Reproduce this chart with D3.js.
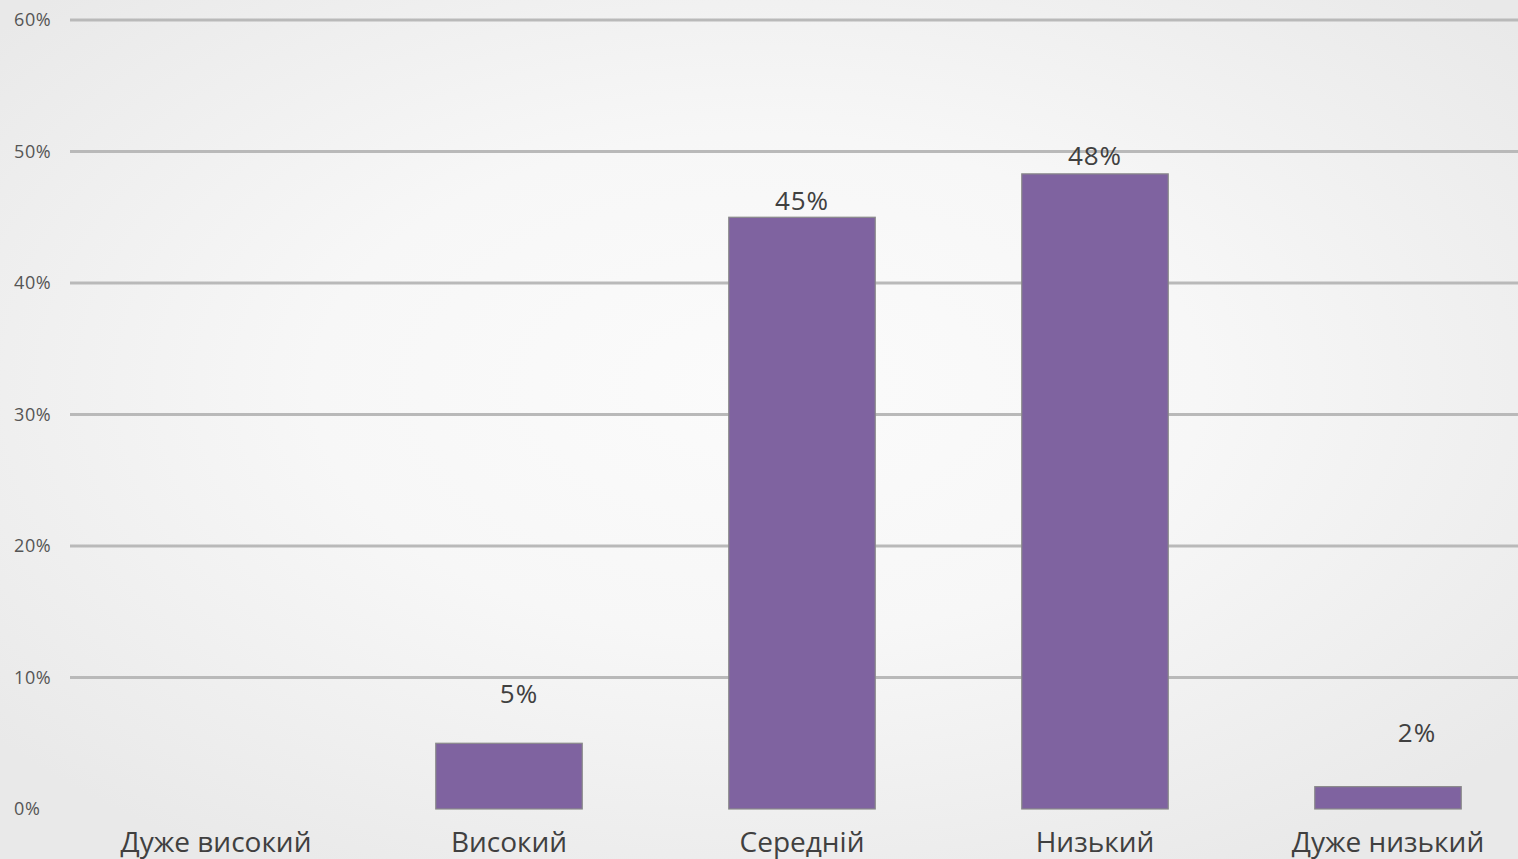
<!DOCTYPE html>
<html><head><meta charset="utf-8">
<script src="https://cdn.jsdelivr.net/npm/d3@7"></script>
<style>html,body{margin:0;padding:0;overflow:hidden;background:#f0f0f0}</style>
</head><body>
<svg id="chart" width="1518" height="859"></svg>
<script>
const categories = ["Дуже високий", "Високий", "Середній", "Низький", "Дуже низький"];
const values = [0, 5, 45, 48.3, 1.7];
const labels = ["", "5%", "45%", "48%", "2%"];
const yTicks = [0, 10, 20, 30, 40, 50, 60];

const W = 1518, H = 859;
const FONT = "'Open Sans', 'Noto Sans', sans-serif";
const svg = d3.select("#chart");
const defs = svg.append("defs");
const rg = defs.append("radialGradient").attr("id","bg").attr("cx","50%").attr("cy","45%").attr("r","65%");
rg.append("stop").attr("offset","0%").attr("stop-color","#fbfbfb");
rg.append("stop").attr("offset","45%").attr("stop-color","#f7f7f7");
rg.append("stop").attr("offset","100%").attr("stop-color","#e9e9e9");
svg.append("rect").attr("width",W).attr("height",H).attr("fill","url(#bg)");

const x = d3.scaleBand().domain(categories).range([69.5, 1534.5]).paddingInner(0.5).paddingOuter(0.25);
const y = d3.scaleLinear().domain([0, 60]).range([809, 20]);

// gridlines
svg.append("g").selectAll("line").data(yTicks.filter(d => d > 0)).join("line")
  .attr("x1", 70).attr("x2", W).attr("y1", d => y(d)).attr("y2", d => y(d))
  .attr("stroke", "#b9b9b9").attr("stroke-width", 3);

// y labels
svg.append("g").selectAll("text").data(yTicks).join("text")
  .attr("x", 14).attr("y", d => y(d)).attr("dy", "0.36em")
  .attr("font-family", FONT).attr("font-size", 18).attr("letter-spacing", 0.6)
  .attr("fill", "#555").text(d => d + "%");

// bars
svg.append("g").selectAll("rect").data(values.map((v, i) => ({c: categories[i], v}))).join("rect")
  .filter(d => d.v > 0)
  .attr("x", d => x(d.c))
  .attr("y", d => y(d.v)).attr("width", x.bandwidth()).attr("height", d => y(0) - y(d.v))
  .attr("fill", "#7f63a0").attr("stroke", "#8a8a8a").attr("stroke-width", 1.2);

// data labels (nudged like the reference)
const nudgeX = [0, 10, 0, 0, 29];
const nudgeY = [0, -50, -17, -18, -54];
svg.append("g").selectAll("text").data(values).join("text")
  .attr("x", (d, i) => x(categories[i]) + x.bandwidth() / 2 + nudgeX[i])
  .attr("y", (d, i) => y(d) + nudgeY[i]).attr("dy", "0.36em")
  .attr("text-anchor", "middle")
  .attr("font-family", FONT).attr("font-size", 26).attr("letter-spacing", 1)
  .attr("fill", "#404040").text((d, i) => labels[i]);

// category labels
svg.append("g").selectAll("text").data(categories).join("text")
  .attr("x", d => x(d) + x.bandwidth() / 2).attr("y", 842).attr("dy", "0.36em")
  .attr("text-anchor", "middle")
  .attr("font-family", FONT).attr("font-size", 28)
  .attr("fill", "#404040").text(d => d);
</script>
</body></html>
